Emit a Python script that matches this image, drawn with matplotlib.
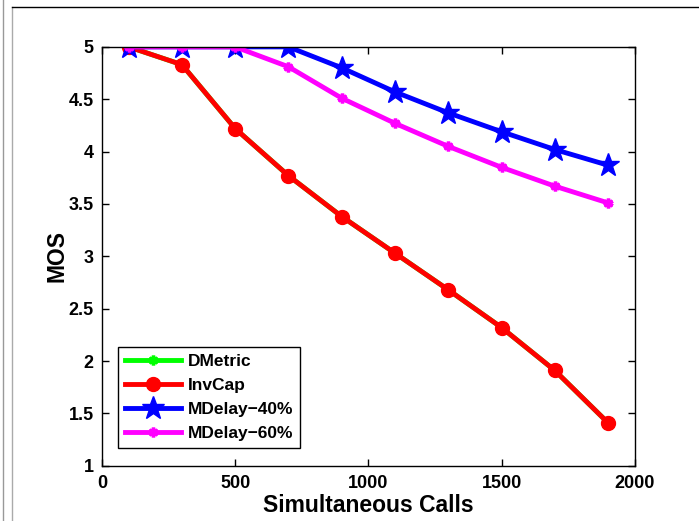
import matplotlib
matplotlib.use("Agg")
import matplotlib.pyplot as plt
from matplotlib.lines import Line2D

calls = [100, 300, 500, 700, 900, 1100, 1300, 1500, 1700, 1900]
dmetric = [5.0, 4.83, 4.22, 3.77, 3.38, 3.03, 2.68, 2.32, 1.91, 1.41]
invcap = [5.0, 4.83, 4.22, 3.77, 3.38, 3.03, 2.68, 2.32, 1.91, 1.41]
mdelay40 = [5.0, 5.0, 5.0, 5.0, 4.80, 4.57, 4.37, 4.19, 4.02, 3.87]
mdelay60 = [5.0, 5.0, 5.0, 4.81, 4.51, 4.27, 4.05, 3.85, 3.67, 3.51]

plt.rcParams['font.family'] = ['Liberation Sans', 'DejaVu Sans']
plt.rcParams['font.weight'] = 'bold'

fig = plt.figure(figsize=(6.99, 5.21), dpi=100)
ax = fig.add_axes([0.146, 0.106, 0.762, 0.804])

asterisk = (6, 2, 0)
ax.plot(calls, dmetric, color='#00ff00', lw=3.5, marker=asterisk, ms=7, mew=2.5, label='DMetric')
ax.plot(calls, invcap, color='red', lw=3.5, marker='o', ms=10, label='InvCap')
ax.plot(calls, mdelay40, color='blue', lw=3.5, marker='*', ms=17, label='MDelay\u221240%')
ax.plot(calls, mdelay60, color='magenta', lw=3.5, marker=asterisk, ms=7, mew=2.5, label='MDelay\u221260%')

ax.set_xlim(0, 2000)
ax.set_ylim(1, 5)
ax.set_xticks([0, 500, 1000, 1500, 2000])
ax.set_yticks([1, 1.5, 2, 2.5, 3, 3.5, 4, 4.5, 5])
ax.set_yticklabels(['1', '1.5', '2', '2.5', '3', '3.5', '4', '4.5', '5'])
ax.tick_params(direction='in', top=True, right=True, labelsize=13, length=5, width=1)
ax.tick_params(axis='x', pad=7)
ax.tick_params(axis='y', pad=6)
for s in ax.spines.values():
    s.set_linewidth(1)
ax.set_xlabel('Simultaneous Calls', fontsize=16.5, fontweight='bold', labelpad=1)
ax.set_ylabel('MOS', fontsize=16.5, fontweight='bold', labelpad=0)

leg = ax.legend(loc='lower left', bbox_to_anchor=(0.03, 0.043), fontsize=12.5,
                frameon=True, fancybox=False, edgecolor='black', framealpha=1,
                handlelength=3.2, borderpad=0.4, labelspacing=0.5, handletextpad=0.4,
                borderaxespad=0)
leg.get_frame().set_linewidth(1)

# screenshot frame remnants
fig.add_artist(Line2D([3 / 699, 3 / 699], [0, 1], color='#999999', lw=1))
fig.add_artist(Line2D([12 / 699, 12 / 699], [0, 1 - 7 / 521], color='#aaaaaa', lw=1))
fig.add_artist(Line2D([12 / 699, 1], [1 - 7 / 521, 1 - 7 / 521], color='black', lw=1))

fig.savefig('out.png', dpi=100)
